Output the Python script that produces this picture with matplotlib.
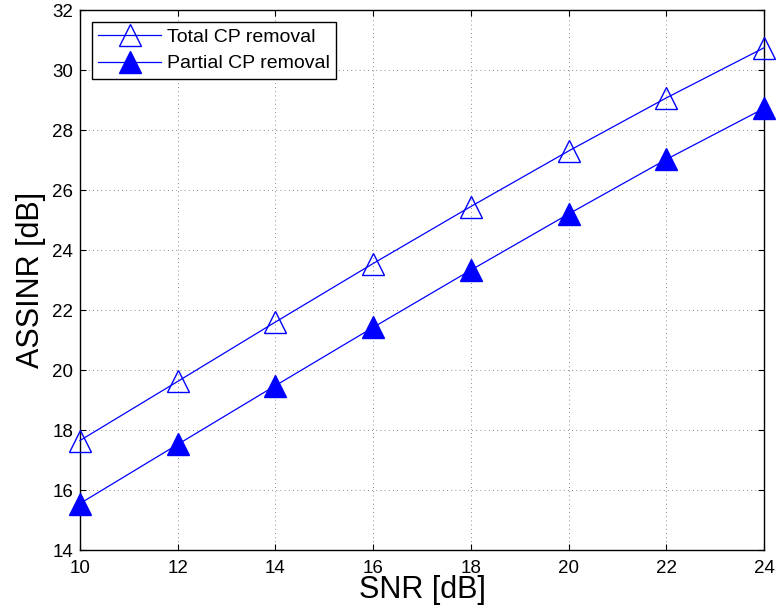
import numpy as np
import matplotlib
matplotlib.use('Agg')
import matplotlib.pyplot as plt

plt.rcParams['font.family'] = ['Liberation Sans', 'DejaVu Sans']

# data
snr = [10, 12, 14, 16, 18, 20, 22, 24]
total_cp = [17.65, 19.62, 21.6, 23.55, 25.45, 27.3, 29.07, 30.74]
partial_cp = [15.55, 17.52, 19.48, 21.42, 23.33, 25.2, 27.02, 28.72]

fig = plt.figure(figsize=(7.78, 6.14), dpi=100)
ax = fig.add_axes([0.1028, 0.1042, 0.8792, 0.8795])

ax.plot(snr, total_cp, color='blue', lw=0.9, marker='^', ms=16,
        mfc='none', mec='blue', mew=1.0, label='Total CP removal',
        clip_on=False, zorder=3)
ax.plot(snr, partial_cp, color='blue', lw=0.9, marker='^', ms=16,
        mfc='blue', mec='blue', label='Partial CP removal',
        clip_on=False, zorder=3)

ax.set_xlim(10, 24)
ax.set_ylim(14, 32)
ax.set_xticks(np.arange(10, 25, 2))
ax.set_yticks(np.arange(14, 33, 2))
ax.grid(True, linestyle=(0, (1, 4)), color='black', lw=0.6, alpha=0.6)
ax.tick_params(direction='in', top=True, right=True, labelsize=13.5,
               length=4.5, pad=5)
ax.tick_params(axis='x', pad=7)
for s in ax.spines.values():
    s.set_linewidth(1.0)

ax.set_xlabel('SNR [dB]', fontsize=22, labelpad=-1)
ax.set_ylabel('ASSINR [dB]', fontsize=22, labelpad=4)

leg = ax.legend(loc='upper left', fontsize=14, fancybox=False, framealpha=1,
                edgecolor='black', borderaxespad=0.6, handlelength=3.2,
                borderpad=0.35, labelspacing=0.45, handletextpad=0.3)
leg.get_frame().set_linewidth(1.0)

fig.savefig('out.png', dpi=100)
